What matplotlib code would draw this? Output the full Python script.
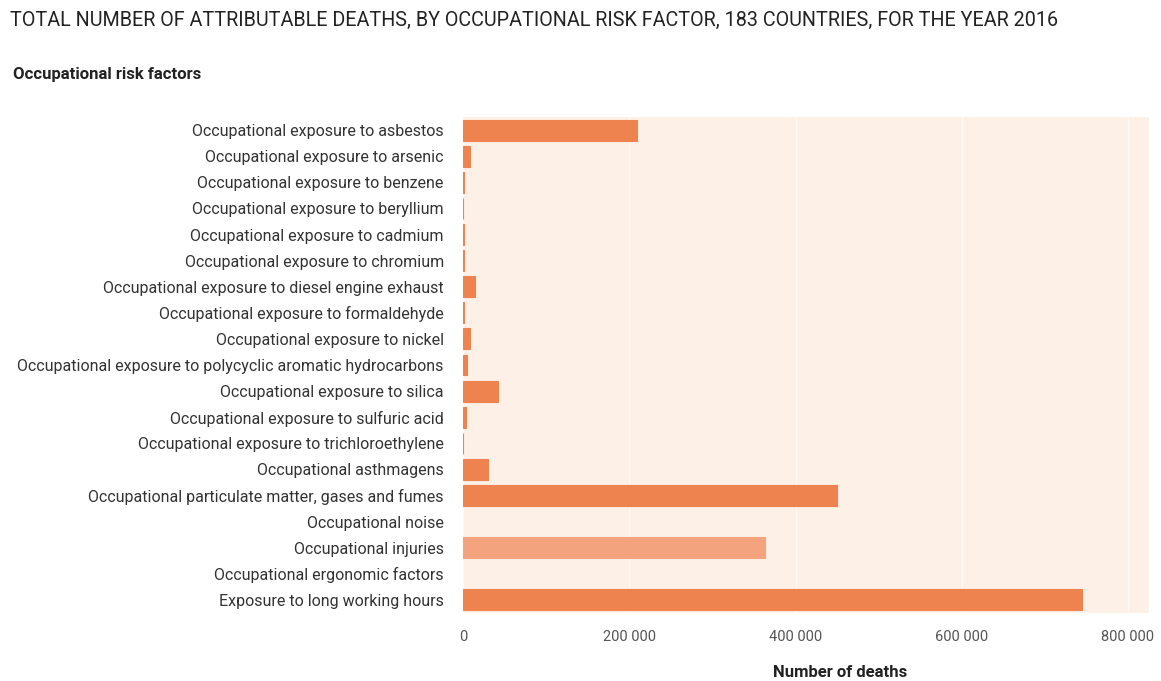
import numpy as np
import matplotlib.pyplot as plt
from matplotlib.ticker import FuncFormatter

# ── data ────────────────────────────────────────────────────────────────
FACTORS = [
    "Occupational exposure to asbestos",
    "Occupational exposure to arsenic",
    "Occupational exposure to benzene",
    "Occupational exposure to beryllium",
    "Occupational exposure to cadmium",
    "Occupational exposure to chromium",
    "Occupational exposure to diesel engine exhaust",
    "Occupational exposure to formaldehyde",
    "Occupational exposure to nickel",
    "Occupational exposure to polycyclic aromatic hydrocarbons",
    "Occupational exposure to silica",
    "Occupational exposure to sulfuric acid",
    "Occupational exposure to trichloroethylene",
    "Occupational asthmagens",
    "Occupational particulate matter, gases and fumes",
    "Occupational noise",
    "Occupational injuries",
    "Occupational ergonomic factors",
    "Exposure to long working hours",
]
DEATHS = [209481, 7589, 1158, 87, 465, 786, 14730, 747, 7589, 4698,
          42258, 3052, 100, 29641, 450381, 0, 363283, 0, 744924]
X_TICKS = [0, 200000, 400000, 600000, 800000]

# ── style ───────────────────────────────────────────────────────────────
plt.rcParams["font.family"] = ["Roboto", "DejaVu Sans"]
BAR = "#EE8350"
BAR_LIGHT = "#F3A47E"
BG = "#FDF0E7"

fig = plt.figure(figsize=(11.61, 6.81), dpi=100)
ax = fig.add_axes([0.399, 0.1, 0.591, 0.728])
ax.set_facecolor(BG)

colors = [BAR_LIGHT if f == "Occupational injuries" else BAR for f in FACTORS]
edges = [c if v > 0 else "none" for c, v in zip(colors, DEATHS)]
y = np.arange(len(FACTORS))
ax.barh(y, DEATHS, height=0.8, color=colors, edgecolor=edges, linewidth=0.8, zorder=3)

ax.set_ylim(len(FACTORS) - 0.5, -0.5)
ax.set_xlim(0, 826000)
ax.set_yticks(y)
ax.set_yticklabels(FACTORS, fontsize=11.5, color="#333333")
ax.set_xticks(X_TICKS)
ax.xaxis.set_major_formatter(FuncFormatter(lambda v, p: f"{int(v):,}".replace(",", " ")))
ax.tick_params(axis="x", labelsize=10.5, labelcolor="#555555", length=0, pad=12)
ax.tick_params(axis="y", length=0, pad=14)
ax.grid(axis="x", color="#FFF8F3", lw=1.0, zorder=1)
for sp in ax.spines.values():
    sp.set_visible(False)

ax.set_xlabel("Number of deaths", fontsize=12, fontweight="bold", color="#222222")
ax.xaxis.set_label_coords(0.55, -0.105)

fig.text(0.009, 0.97, "TOTAL NUMBER OF ATTRIBUTABLE DEATHS, BY OCCUPATIONAL RISK FACTOR, 183 COUNTRIES, FOR THE YEAR 2016",
         fontsize=14.2, color="#222222", va="center", ha="left")
fig.text(0.011, 0.89, "Occupational risk factors", fontsize=12, fontweight="bold",
         color="#222222", va="center", ha="left")

plt.savefig("out.png", dpi=100, facecolor="white")
